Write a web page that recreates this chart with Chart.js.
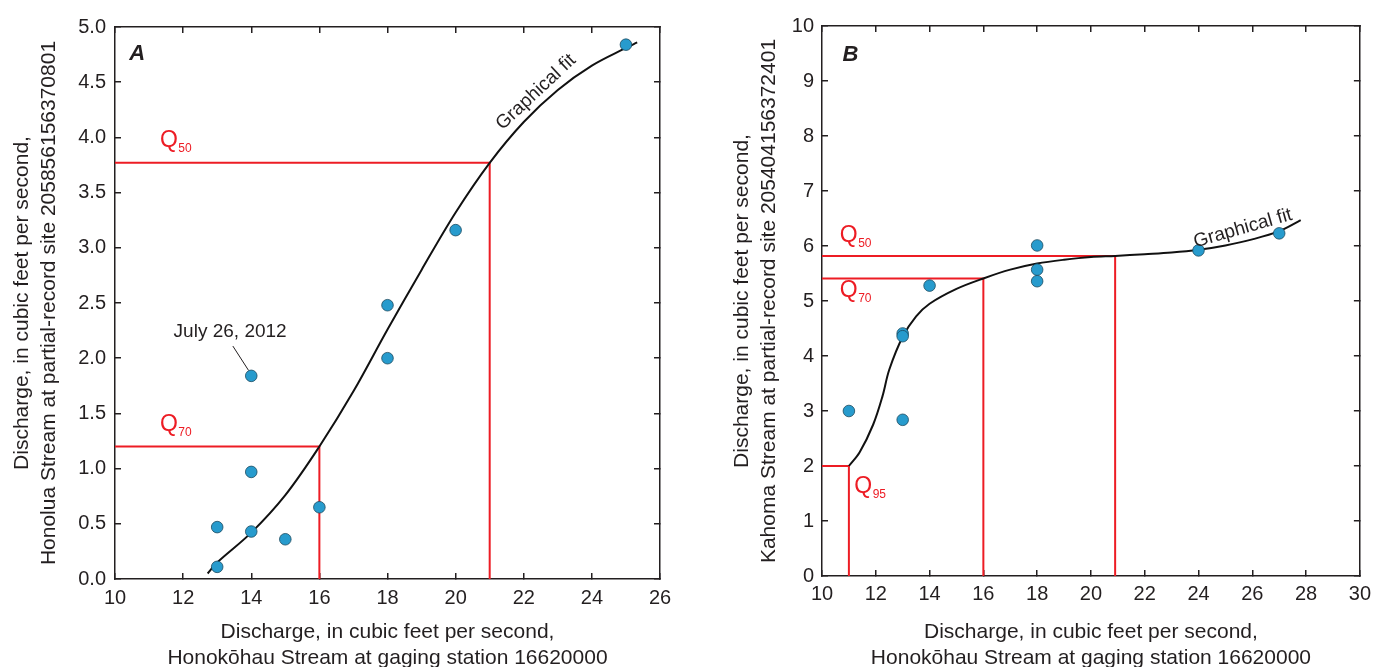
<!DOCTYPE html>
<html><head><meta charset="utf-8">
<script src="https://cdn.jsdelivr.net/npm/chart.js@4.4.1/dist/chart.umd.min.js"></script>
<style>
html,body{margin:0;padding:0;background:#fff;overflow:hidden;width:1383px;height:667px}
canvas{position:absolute;top:0}
#ca{left:0}
#cb{left:700px}
</style></head>
<body>
<canvas id="ca" width="700" height="667"></canvas>
<canvas id="cb" width="683" height="667"></canvas>
<script>
// ---------- Panel A data ----------
const obsXA = [13, 13, 14, 14, 14, 15, 16, 18, 18, 20, 25];
const obsYA = [0.11, 0.47, 0.43, 0.97, 1.84, 0.36, 0.65, 2.48, 2.00, 3.16, 4.84];
const fitXA = [12.72, 13, 14, 15, 16, 17, 18, 19, 20, 21, 22, 23, 24, 25, 25.33];
const fitYA = [0.05, 0.15, 0.42, 0.76, 1.20, 1.70, 2.26, 2.80, 3.32, 3.77, 4.14, 4.43, 4.65, 4.81, 4.86];
const qLevelsA = ['50', '70'];
const qXA = [21, 16];
const qYA = [3.77, 1.20];
const xTicksA = [10, 12, 14, 16, 18, 20, 22, 24, 26];
const yTicksA = [0, 0.5, 1, 1.5, 2, 2.5, 3, 3.5, 4, 4.5, 5];
const yTickLabelsA = ['0.0', '0.5', '1.0', '1.5', '2.0', '2.5', '3.0', '3.5', '4.0', '4.5', '5.0'];

// ---------- Panel B data ----------
const obsXB = [11, 13, 13, 13, 14, 18, 18, 18, 24, 27];
const obsYB = [3.00, 2.84, 4.41, 4.36, 5.28, 6.01, 5.57, 5.36, 5.92, 6.23];
const fitXB = [11, 11.4, 11.9, 12.25, 12.5, 13, 13.5, 14, 15, 16, 17, 18, 19, 20, 20.9, 22, 23, 24, 25, 26, 27, 27.8];
const fitYB = [2.00, 2.25, 2.75, 3.27, 3.75, 4.35, 4.72, 4.95, 5.22, 5.41, 5.57, 5.68, 5.75, 5.80, 5.82, 5.85, 5.88, 5.93, 6.01, 6.12, 6.27, 6.47];
const qLevelsB = ['50', '70', '95'];
const qXB = [20.9, 16, 11];
const qYB = [5.82, 5.41, 2.00];
const xTicksB = [10, 12, 14, 16, 18, 20, 22, 24, 26, 28, 30];
const yTicksB = [0, 1, 2, 3, 4, 5, 6, 7, 8, 9, 10];
const yTickLabelsB = ['0', '1', '2', '3', '4', '5', '6', '7', '8', '9', '10'];

// ---------- styling ----------
const INK = '#231f20';
const RED = '#ed1c24';
const DOT = '#279bcd';
const FONT = "'Liberation Sans', Arial, Helvetica, sans-serif";
Chart.defaults.font.family = FONT;
Chart.defaults.color = INK;

function pts(xs, ys) { return xs.map((x, i) => ({x: x, y: ys[i]})); }

const annotPlugin = {
  id: 'annot',
  afterDatasetsDraw(chart, args, opts) {
    const ctx = chart.ctx;
    const sx = chart.scales.x, sy = chart.scales.y;
    ctx.save();
    (opts.items || []).forEach(it => {
      const px = sx.getPixelForValue(it.x), py = sy.getPixelForValue(it.y);
      if (it.kind === 'q') {
        ctx.fillStyle = RED;
        ctx.font = '23px ' + FONT;
        ctx.textAlign = 'left';
        ctx.textBaseline = 'middle';
        ctx.fillText('Q', px, py - 3);
        const w = ctx.measureText('Q').width;
        ctx.font = '12px ' + FONT;
        ctx.fillText(it.sub, px + w + 0.5, py + 5);
      } else if (it.kind === 'text') {
        ctx.fillStyle = INK;
        ctx.font = it.font;
        ctx.textAlign = 'center';
        ctx.textBaseline = 'middle';
        ctx.translate(px, py);
        ctx.rotate((it.rot || 0) * Math.PI / 180);
        ctx.fillText(it.text, 0, 0);
        ctx.setTransform(1, 0, 0, 1, 0, 0);
      } else if (it.kind === 'leader') {
        ctx.strokeStyle = INK;
        ctx.lineWidth = 1;
        ctx.beginPath();
        ctx.moveTo(px, py);
        ctx.lineTo(sx.getPixelForValue(it.x2), sy.getPixelForValue(it.y2));
        ctx.stroke();
      }
    });
    ctx.restore();
  }
};

function makeChart(id, cfg) {
  const qSets = cfg.qX.map((qx, i) => ({
    type: 'line',
    data: [{x: cfg.xMin, y: cfg.qY[i]}, {x: qx, y: cfg.qY[i]}, {x: qx, y: cfg.yMin}],
    borderColor: RED, borderWidth: 2, pointRadius: 0, tension: 0, fill: false
  }));
  const tickGrid = {display: true, drawOnChartArea: false, drawTicks: true, tickLength: -6, tickColor: INK, lineWidth: 1.5};
  const border = {display: true, color: INK, width: 1.5};
  const side = (pos, ticks, axis) => ({
    type: 'linear', position: pos, min: axis === 'x' ? cfg.xMin : cfg.yMin, max: axis === 'x' ? cfg.xMax : cfg.yMax,
    grid: tickGrid, border: border,
    ticks: {display: false},
    afterBuildTicks: s => { s.ticks = ticks.map(v => ({value: v})); },
    afterFit: s => { if (axis === 'x') s.height = 0; else s.width = 0; }
  });
  return new Chart(document.getElementById(id), {
    type: 'scatter',
    data: {
      datasets: [
        {type: 'scatter', data: pts(cfg.obsX, cfg.obsY), backgroundColor: DOT, borderColor: '#1b4a60', borderWidth: 0.8, pointRadius: 5.8, pointHoverRadius: 5.8},
        {type: 'line', data: pts(cfg.fitX, cfg.fitY), borderColor: '#111', borderWidth: 2, pointRadius: 0, tension: 0.35, fill: false},
        ...qSets
      ]
    },
    options: {
      responsive: false, animation: false, devicePixelRatio: 1,
      layout: {padding: cfg.pad},
      plugins: {legend: {display: false}, tooltip: {enabled: false}, annot: {items: cfg.items}},
      scales: {
        x: {
          type: 'linear', position: 'bottom', min: cfg.xMin, max: cfg.xMax,
          grid: tickGrid, border: border,
          afterBuildTicks: s => { s.ticks = cfg.xTicks.map(v => ({value: v})); },
          ticks: {font: {size: 20}, color: INK, padding: cfg.xTickPad, maxRotation: 0, autoSkip: false, callback: v => String(v)},
          title: {display: true, text: cfg.xTitle, font: {size: 21, lineHeight: '26px'}, color: INK, padding: {top: 0, bottom: -4}},
          afterFit: s => { s.height = cfg.xH; }
        },
        y: {
          type: 'linear', position: 'left', min: cfg.yMin, max: cfg.yMax,
          grid: tickGrid, border: border,
          afterBuildTicks: s => { s.ticks = cfg.yTicks.map(v => ({value: v})); },
          ticks: {font: {size: 20}, color: INK, padding: cfg.yTickPad, autoSkip: false, callback: (v) => cfg.yLabels[cfg.yTicks.indexOf(v)]},
          title: {display: true, text: cfg.yTitle, font: {size: 21, lineHeight: '27px'}, color: INK, padding: {top: cfg.yTitlePad, bottom: 0}},
          afterFit: s => { s.width = cfg.yW; }
        },
        x2: side('top', cfg.xTicks, 'x'),
        y2: side('right', cfg.yTicks, 'y')
      }
    },
    plugins: [annotPlugin]
  });
}

makeChart('ca', {
  obsX: obsXA, obsY: obsYA, fitX: fitXA, fitY: fitYA, qX: qXA, qY: qYA,
  xMin: 10, xMax: 26, yMin: 0, yMax: 5, xTicks: xTicksA, yTicks: yTicksA, yLabels: yTickLabelsA,
  pad: {left: 0, top: 20, right: 40, bottom: 0}, xH: 88, yW: 115, xTickPad: 13, yTickPad: 15, yTitlePad: 9,
  xTitle: ['Discharge, in cubic feet per second,', 'Honok\u014Dhau Stream at gaging station 16620000'],
  yTitle: ['Discharge, in cubic feet per second,', 'Honolua Stream at partial-record site 205856156370801'],
  items: [
    {kind: 'text', text: 'A', x: 10.65, y: 4.76, font: 'italic bold 22px ' + FONT},
    {kind: 'q', sub: qLevelsA[0], x: 11.32, y: 3.94},
    {kind: 'q', sub: qLevelsA[1], x: 11.32, y: 1.37},
    {kind: 'text', text: 'July 26, 2012', x: 13.38, y: 2.24, font: '19px ' + FONT},
    {kind: 'leader', x: 13.46, y: 2.11, x2: 13.92, y2: 1.89},
    {kind: 'text', text: 'Graphical fit', x: 22.36, y: 4.41, rot: -43, font: '19px ' + FONT}
  ]
});

makeChart('cb', {
  obsX: obsXB, obsY: obsYB, fitX: fitXB, fitY: fitYB, qX: qXB, qY: qYB,
  xMin: 10, xMax: 30, yMin: 0, yMax: 10, xTicks: xTicksB, yTicks: yTicksB, yLabels: yTickLabelsB,
  pad: {left: 0, top: 16, right: 14, bottom: 0}, xH: 91, yW: 122, xTickPad: 12, yTickPad: 14, yTitlePad: 29,
  xTitle: ['Discharge, in cubic feet per second,', 'Honok\u014Dhau Stream at gaging station 16620000'],
  yTitle: ['Discharge, in cubic feet per second,', 'Kahoma Stream at partial-record site 205404156372401'],
  items: [
    {kind: 'text', text: 'B', x: 11.06, y: 9.48, font: 'italic bold 22px ' + FONT},
    {kind: 'q', sub: qLevelsB[0], x: 10.66, y: 6.13},
    {kind: 'q', sub: qLevelsB[1], x: 10.66, y: 5.14},
    {kind: 'q', sub: qLevelsB[2], x: 11.2, y: 1.57},
    {kind: 'text', text: 'Graphical fit', x: 25.65, y: 6.32, rot: -16, font: '19px ' + FONT}
  ]
});
</script>
</body></html>
